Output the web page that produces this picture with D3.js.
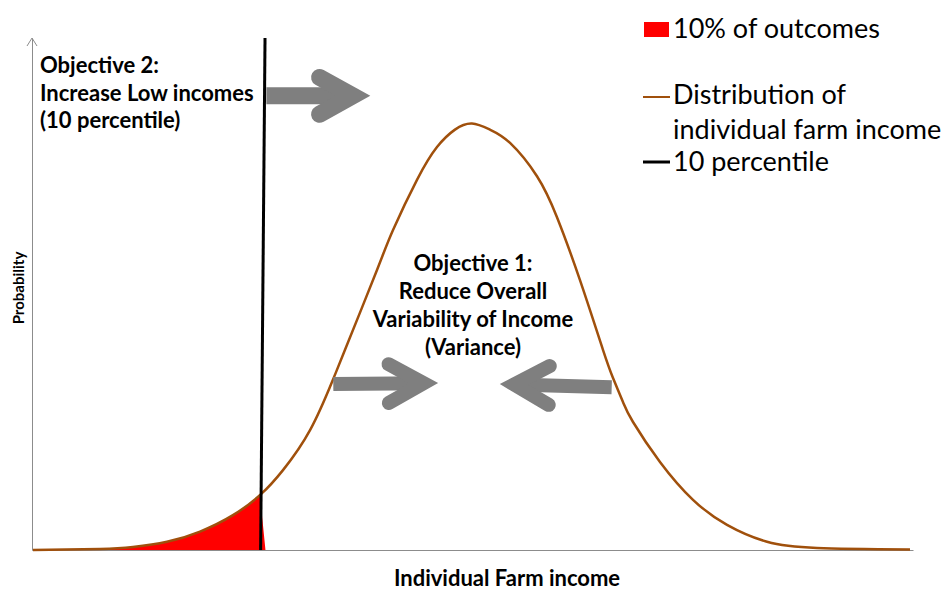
<!DOCTYPE html>
<html>
<head>
<meta charset="utf-8">
<script src="https://cdn.jsdelivr.net/npm/d3@7"></script>
<style>
body{margin:0;background:#fff;}
text{font-family:Lato,"Open Sans",sans-serif;fill:#000;}
</style>
</head>
<body>
<svg id="chart"></svg>
<script>
// income (index units) and probability
var incomeX = [0.11, 7.72, 11.46, 15.32, 19.07, 22.81, 25.99, 28.49, 31.56, 34.05, 35.53, 39.16, 40.98, 43.70, 45.97, 48.01, 49.94,
               51.99, 54.26, 57.32, 59.59, 62.20, 64.81, 65.95, 67.08, 68.22, 71.28, 75.03, 78.89, 83.43, 89.10, 99.66];
var probY = [0.0, 0.002, 0.006, 0.016, 0.036, 0.068, 0.109, 0.156, 0.234, 0.328, 0.391, 0.547, 0.625, 0.723, 0.787, 0.821, 0.833,
             0.821, 0.795, 0.730, 0.650, 0.527, 0.391, 0.336, 0.289, 0.250, 0.172, 0.098, 0.049, 0.016, 0.004, 0.001];

// 10 percentile line (top end, bottom end)
var p10X = [26.45, 25.95];
var p10Y = [1.0, 0.0];

// right edge of the red 10% tail
var tailX = [25.85, 26.5];
var tailY = [0.112, 0.0];

// arrows: start -> tip
var arrowX1 = [26.6, 34.2, 65.8];
var arrowY1 = [0.887, 0.324, 0.318];
var arrowX2 = [38.4, 46.1, 53.1];
var arrowY2 = [0.887, 0.326, 0.324];

var legendLabels = ["10% of outcomes", "Distribution of", "individual farm income", "10 percentile"];
var objective2 = ["Objective 2:", "Increase Low incomes", "(10 percentile)"];
var objective1 = ["Objective 1:", "Reduce Overall", "Variability of Income", "(Variance)"];

var drawArrow = function(g, x1, y1, x2, y2, w)
{
    var dx = x2 - x1, dy = y2 - y1
    var len = Math.sqrt(dx*dx + dy*dy)
    var ux = dx/len, uy = dy/len
    var nx = -uy, ny = ux
    var th = 29*Math.PI/180
    var L = w > 14 ? 38 : 40
    var m = (w/2)/Math.sin(th)
    var vx = x2 - ux*m, vy = y2 - uy*m
    var bx = vx - ux*L*Math.cos(th), by = vy - uy*L*Math.cos(th)
    var sx = L*Math.sin(th)

    g.append("path")
        .attr("d", "M"+x1+","+y1+"L"+vx+","+vy)
        .attr("stroke", "#7f7f7f")
        .attr("stroke-width", w)
        .attr("fill", "none")
    g.append("path")
        .attr("d", "M"+(bx+nx*sx)+","+(by+ny*sx)+"L"+vx+","+vy+"L"+(bx-nx*sx)+","+(by-ny*sx))
        .attr("stroke", "#7f7f7f")
        .attr("stroke-width", w)
        .attr("stroke-linecap", "round")
        .attr("stroke-linejoin", "miter")
        .attr("stroke-miterlimit", 10)
        .attr("fill", "none")
}

var displayChart = function(target)
{
    var screen = {width:948, height:592}
    var svg = d3.select(target)
        .attr("width", screen.width)
        .attr("height", screen.height)

    var xScale = d3.scaleLinear().domain([0,100]).range([32,913])
    var yScale = d3.scaleLinear().domain([0,1]).range([550,38])

    var points = incomeX.map(function(x,i){ return {x:x, y:probY[i]} })

    // axes, no ticks
    var axes = svg.append("g")
    axes.append("g")
        .attr("transform", "translate(0,"+yScale(0)+")")
        .call(d3.axisBottom(xScale).tickValues([]).tickSizeOuter(0))
    axes.append("g")
        .attr("transform", "translate("+xScale(0)+",0)")
        .call(d3.axisLeft(yScale).tickValues([]).tickSizeOuter(0))
    axes.selectAll(".domain").attr("stroke", "#8c8c8c").attr("stroke-width", 1)
    axes.append("path")
        .attr("d", "M"+(xScale(0)-5)+","+(yScale(1)+8)+"L"+xScale(0)+","+yScale(1)+"L"+(xScale(0)+5)+","+(yScale(1)+8))
        .attr("fill", "none")
        .attr("stroke", "#8c8c8c")

    var curve = d3.curveNatural

    // red tail, clipped left of its edge
    var clip = [[xScale(-1), yScale(0)], [xScale(tailX[1]), yScale(tailY[1])],
                [xScale(tailX[0]), yScale(tailY[0])], [xScale(tailX[0]), yScale(0.4)], [xScale(-1), yScale(0.4)]]
    svg.append("clipPath").attr("id", "tail")
        .append("path").attr("d", "M"+clip.join("L")+"Z")

    var area = d3.area()
        .x(function(d){ return xScale(d.x) })
        .y0(yScale(0))
        .y1(function(d){ return yScale(d.y) })
        .curve(curve)
    svg.append("path")
        .datum(points)
        .attr("d", area)
        .attr("fill", "#ff0000")
        .attr("clip-path", "url(#tail)")

    var line = d3.line()
        .x(function(d){ return xScale(d.x) })
        .y(function(d){ return yScale(d.y) })
        .curve(curve)
    svg.append("path")
        .datum(points)
        .attr("d", line)
        .attr("fill", "none")
        .attr("stroke", "#a0500c")
        .attr("stroke-width", 2.5)

    // 10 percentile
    svg.append("line")
        .attr("x1", xScale(p10X[0])).attr("y1", yScale(p10Y[0]))
        .attr("x2", xScale(p10X[1])).attr("y2", yScale(p10Y[1]))
        .attr("stroke", "#000")
        .attr("stroke-width", 3)

    // arrows
    var ag = svg.append("g")
    arrowX1.forEach(function(x,i)
    {
        drawArrow(ag, xScale(x), yScale(arrowY1[i]), xScale(arrowX2[i]), yScale(arrowY2[i]), i == 0 ? 17 : 14)
    })

    // annotations
    var t2 = svg.append("text").attr("font-weight", "bold").attr("font-size", 22)
    objective2.forEach(function(s,i)
    {
        t2.append("tspan").attr("x", 40).attr("y", 73 + i*27.5).text(s)
    })
    var t1 = svg.append("text").attr("font-weight", "bold").attr("font-size", 22).attr("text-anchor", "middle")
    objective1.forEach(function(s,i)
    {
        t1.append("tspan").attr("x", 473).attr("y", 271 + i*28).text(s)
    })

    svg.append("text")
        .attr("transform", "translate(24,288) rotate(-90)")
        .attr("text-anchor", "middle")
        .attr("font-weight", "bold")
        .attr("font-size", 15)
        .text("Probability")
    svg.append("text")
        .attr("x", 507).attr("y", 586)
        .attr("text-anchor", "middle")
        .attr("font-weight", "bold")
        .attr("font-size", 22)
        .text("Individual Farm income")

    // legend
    var lg = svg.append("g")
    lg.append("rect").attr("x", 644).attr("y", 22).attr("width", 25).attr("height", 15).attr("fill", "#ff0000")
    lg.append("line").attr("x1", 643).attr("x2", 670).attr("y1", 97).attr("y2", 97)
        .attr("stroke", "#a0500c").attr("stroke-width", 2)
    lg.append("line").attr("x1", 643).attr("x2", 670).attr("y1", 162).attr("y2", 162)
        .attr("stroke", "#000").attr("stroke-width", 3)
    var ly = [38, 104, 139, 171]
    legendLabels.forEach(function(s,i)
    {
        lg.append("text").attr("x", 673).attr("y", ly[i]).attr("font-size", 27).text(s)
    })
}

displayChart("#chart")
</script>
</body>
</html>
